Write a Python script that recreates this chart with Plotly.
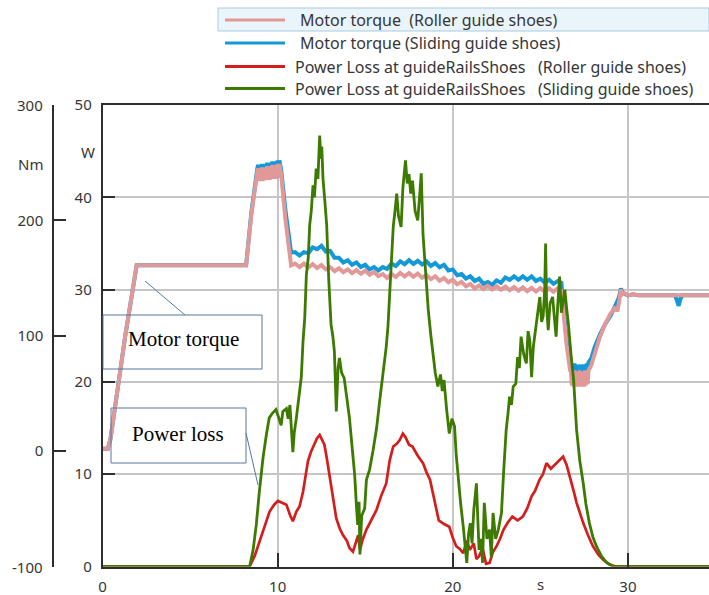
import plotly.graph_objects as go

# ---------------------------------------------------------------- data
# time axis shared by both motor-torque curves (s)
T_TORQUE = [
    0, 0.3, 0.45, 0.7, 1.0, 1.3, 1.6, 1.95, 8.2, 8.5, 8.85,
    8.9, 8.95, 9.0, 9.05, 9.1, 9.15, 9.2, 9.25, 9.3, 9.35, 9.4, 9.45, 9.5,
    9.55, 9.6, 9.65, 9.7, 9.75, 9.8, 9.85, 9.9, 9.95, 10.0, 10.05, 10.1,
    10.2, 10.45, 10.77,
    11.0, 11.25, 11.5, 11.75, 12.0, 12.25, 12.5, 12.75, 13.0, 13.25,
    13.5, 13.75, 14.0, 14.25, 14.5, 14.75, 15.0, 15.25, 15.5, 15.75,
    16.0, 16.25, 16.5, 16.75, 17.0, 17.25, 17.5, 17.75, 18.0, 18.25,
    18.5, 18.75, 19.0, 19.25, 19.5, 19.75, 20.0, 20.25, 20.5, 20.75,
    21.0, 21.25, 21.5, 21.75, 22.0, 22.25, 22.5, 22.75, 23.0, 23.25,
    23.5, 23.75, 24.0, 24.25, 24.5, 24.75, 25.0, 25.25, 25.5, 25.75,
    26.0,
    26.2, 26.35, 26.5, 26.7,
    26.75, 26.8, 26.85, 26.9, 26.95, 27.0, 27.05, 27.1, 27.15, 27.2, 27.25,
    27.3, 27.35, 27.4, 27.45, 27.5, 27.55, 27.6, 27.65, 27.7, 27.75,
    27.9, 28.1, 28.4, 28.7, 29.0, 29.3, 29.4, 29.5, 29.6, 29.7,
    29.8, 30.0, 30.3, 30.6, 32.7, 32.8, 32.9, 33.0, 33.1, 34.63,
]

# motor torque, roller guide shoes (Nm)
TORQUE_ROLLER = [
    2, 2, 10, 38, 70, 100, 128, 161, 161, 205, 243,
    245, 234, 245, 234, 246, 234, 246, 235, 246, 235, 247, 235, 247,
    235, 247, 236, 248, 236, 248, 236, 248, 236, 249, 237, 249,
    240, 200, 161,
    162.5, 159.5, 162.5, 159.3, 162.1, 158.7, 161.3, 157.5, 159.5, 156,
    158.5, 155, 157.5, 154.3, 157, 153.7, 156.5, 152.9, 155.3, 151.7,
    153.5, 150, 153.5, 151, 154.5, 151.4, 154.3, 151.1, 153.9, 150.3,
    152.7, 149.1, 151.5, 147.7, 150, 146.3, 148.5, 144.6, 146.7, 142.8,
    144.9, 141, 143.5, 140.4, 143.3, 140.2, 143, 139.9, 142.7, 139.5,
    142.3, 139.1, 141.9, 138.7, 141.5, 138.4, 141.3, 138.2, 141.1, 138.1,
    141.1,
    139, 115, 92, 70,
    68, 57, 69, 56, 70, 57, 68, 56, 69, 57, 70,
    56, 69, 57, 68, 56, 70, 57, 69, 58, 70,
    74, 84, 99, 110, 119, 125, 121, 130, 140, 136,
    137, 135, 136, 135, 135, 135, 135, 135, 135, 135,
]

# motor torque, sliding guide shoes (Nm)
TORQUE_SLIDING = [
    2, 2, 10, 38, 70, 100, 128, 161, 161, 207, 246,
    248, 240, 248, 240, 249, 240, 249, 241, 249, 241, 250, 241, 250,
    241, 250, 242, 251, 242, 251, 242, 251, 242, 252, 243, 252,
    244, 208, 172,
    172.5, 169.5, 172.5, 171.5, 176.5, 175, 178, 173, 173.5, 167.5,
    167.5, 163.5, 165.5, 161.5, 163.5, 159.5, 161.5, 157.5, 159.5, 156.5,
    159.5, 158, 162.5, 160.5, 164.5, 162, 165.5, 162.3, 165, 161.7,
    164.5, 160.5, 163, 159.3, 161.5, 156.5, 157.5, 152.5, 153.5, 149.5,
    151.5, 147.5, 149.5, 145, 146.5, 144, 148, 146, 150.5, 148.5,
    151.5, 148.5, 151.5, 148.5, 151.5, 147.5, 149.5, 146, 148.5, 145,
    147.5,
    146, 122, 96, 78,
    76, 68, 75, 68, 76, 69, 75, 68, 74, 69, 75,
    68, 74, 69, 75, 68, 74, 69, 76, 70, 77,
    80, 90, 101, 110, 117, 126, 130, 134, 141, 137,
    136, 135, 136, 135, 135, 130, 126, 132, 135, 135,
]

# power loss at the guide rail shoes, roller guide shoes (W)
T_LOSS_ROLLER = [
    0, 8.4, 8.7, 8.97, 9.25, 9.54, 9.8, 10.02, 10.25, 10.5,
    10.7, 10.87, 11.07, 11.25, 11.45, 11.6, 11.73, 11.9, 12.1, 12.25,
    12.4, 12.55, 12.67, 12.8, 12.97, 13.15, 13.35, 13.55, 13.73, 13.95,
    14.1, 14.3, 14.45, 14.6, 14.7, 14.85, 15.07, 15.35, 15.64, 15.9,
    16.2, 16.4, 16.6, 16.8, 16.97, 17.15, 17.3, 17.5, 17.7, 18.0,
    18.3, 18.5, 18.7, 18.95, 19.2, 19.5, 19.8, 20.0, 20.2, 20.4,
    20.6, 20.8, 20.97, 21.2, 21.35, 21.5, 21.7, 21.9, 22.1, 22.3,
    22.5, 22.7, 22.9, 23.15, 23.4, 23.7, 24.0, 24.25, 24.5, 24.7,
    24.95, 25.15, 25.35, 25.6, 25.9, 26.1, 26.3, 26.5, 26.7, 26.9,
    27.07, 27.25, 27.45, 27.7, 28.0, 28.3, 28.6, 28.97, 29.3, 34.63,
]
LOSS_ROLLER = [
    0, 0, 1.2, 2.7, 4.5, 5.95, 6.7, 7.1, 6.9, 6.7,
    5.6, 4.9, 5.95, 6.5, 8.1, 9.9, 11.4, 12.4, 13.2, 13.9,
    14.25, 13.6, 13.2, 11.8, 9.9, 7.5, 5.2, 4.1, 3.4, 2.8,
    2.0, 1.6, 2.4, 3.4, 1.8, 2.9, 4.0, 5.0, 6.1, 7.6,
    9.0, 11.5, 13.0, 13.3, 13.7, 14.4, 14.0, 13.2, 13.0, 12.0,
    11.2, 10.2, 9.4, 7.2, 5.0, 4.6, 4.3, 3.1, 2.2, 1.9,
    1.45, 2.8, 1.8, 2.5, 0.8, 1.1, 2.0, 0.3, 0.4, 1.6,
    2.2, 3.0, 4.0, 4.8, 5.4, 5.0, 5.4, 6.3, 7.6, 8.2,
    9.4, 10.0, 11.2, 10.6, 11.2, 11.5, 11.9, 11.0, 9.7, 8.2,
    6.9, 5.8, 4.7, 3.5, 2.2, 1.3, 0.7, 0.2, 0, 0,
]

# power loss at the guide rail shoes, sliding guide shoes (W)
T_LOSS_SLIDING = [
    0, 8.4, 8.6, 8.78, 8.95, 9.16, 9.35, 9.52, 9.7, 9.9,
    10.05, 10.2, 10.3, 10.5, 10.6, 10.7, 10.87, 10.95, 11.07, 11.25,
    11.35, 11.45, 11.55, 11.64, 11.75, 11.83, 11.92, 12.02, 12.1, 12.2,
    12.3, 12.4, 12.47, 12.52, 12.59, 12.7, 12.8, 12.92, 13.05, 13.15,
    13.24, 13.35, 13.45, 13.53, 13.65, 13.8, 13.95, 14.1, 14.25, 14.4,
    14.5, 14.57, 14.65, 14.7, 14.8, 14.97, 15.07, 15.25, 15.45, 15.65,
    15.83, 16.0, 16.2, 16.3, 16.4, 16.5, 16.6, 16.7, 16.8, 16.9,
    17.05, 17.15, 17.3, 17.4, 17.5, 17.6, 17.7, 17.85, 18.0, 18.1,
    18.2, 18.3, 18.4, 18.5, 18.6, 18.75, 18.9, 19.0, 19.15, 19.3,
    19.4, 19.5, 19.65, 19.8, 19.95, 20.1, 20.2, 20.3, 20.45, 20.6,
    20.7, 20.8, 20.9, 21.0, 21.1, 21.2, 21.35, 21.45, 21.5, 21.6,
    21.7, 21.8, 21.95, 22.1, 22.2, 22.3, 22.45, 22.6, 22.78, 22.9,
    23.05, 23.15, 23.24, 23.35, 23.45, 23.6, 23.7, 23.8, 23.9, 24.05,
    24.2, 24.3, 24.4, 24.5, 24.6, 24.77, 24.87, 24.97, 25.07, 25.16,
    25.25, 25.3, 25.36, 25.45, 25.55, 25.7, 25.8, 25.9, 26.0, 26.1,
    26.2, 26.3, 26.4, 26.5, 26.6, 26.75, 26.9, 27.07, 27.25, 27.45,
    27.6, 27.8, 28.0, 28.2, 28.5, 28.8, 29.15, 34.63,
]
LOSS_SLIDING = [
    0, 0, 1.8, 4.5, 8.0, 11.7, 14.2, 16.1, 16.6, 17.0,
    16.2, 15.3, 16.8, 17.1, 16.0, 17.5, 12.4, 14.5, 16.1, 18.9,
    20.5, 24.4, 27.0, 31.6, 33.5, 37.0, 38.5, 41.3, 40.0, 43.1,
    42.0, 46.7, 44.2, 45.5, 42.0, 39.5, 37.0, 31.0, 26.2, 25.0,
    23.3, 16.8, 21.5, 22.6, 21.0, 20.4, 18.5, 16.1, 13.0, 9.9,
    6.5, 4.5, 7.0, 1.3, 5.5, 6.3, 9.4, 10.5, 12.6, 15.0,
    18.0, 20.5, 23.8, 26.0, 29.6, 33.0, 36.8, 38.5, 40.4, 38.0,
    36.8, 41.0, 44.0, 41.5, 42.5, 40.4, 41.8, 38.5, 37.5, 40.0,
    42.6, 36.0, 33.2, 30.0, 27.8, 25.0, 22.4, 21.0, 19.5, 20.8,
    19.0, 20.2, 17.0, 14.4, 16.0, 15.2, 12.0, 9.7, 6.8, 4.3,
    2.0, 0.4, 3.5, 4.7, 2.5, 6.1, 9.0, 5.0, 1.8, 3.0,
    0.4, 6.9, 3.0, 4.0, 1.0, 5.8, 3.0, 4.0, 5.8, 10.1,
    14.8, 16.5, 18.4, 17.5, 19.5, 19.8, 22.7, 21.5, 24.9, 23.0,
    22.0, 25.5, 24.5, 20.5, 23.8, 26.3, 28.0, 29.2, 26.5, 27.1,
    30.0, 35.0, 28.0, 25.6, 28.5, 29.2, 27.0, 24.9, 28.5, 31.4,
    27.5, 29.0, 30.0, 28.0, 26.3, 23.0, 20.2, 14.8, 11.5, 9.0,
    6.8, 4.7, 3.2, 2.2, 1.1, 0.4, 0, 0,
]

SERIES_NAMES = [
    "Motor torque\u00a0\u00a0(Roller guide shoes)",
    "Motor torque (Sliding guide shoes)",
    "Power Loss at guideRailsShoes\u00a0\u00a0\u00a0(Roller guide shoes)",
    "Power Loss at guideRailsShoes\u00a0\u00a0\u00a0(Sliding guide shoes)",
]
X_TICKS = [0, 10, 20, 30]
W_TICKS = [0, 10, 20, 30, 40, 50]
NM_TICKS = [0, 100, 200]
NM_END_TICKS = [300, -100]
X_RANGE = [0, 34.63]
W_RANGE = [0, 50]
NM_RANGE = [-100, 300]

# ---------------------------------------------------------------- styling
FIG_W, FIG_H = 709, 595
PLOT_L, PLOT_T, PLOT_B = 102.5, 105, 566.5
NM_AXIS_X = 53

C_PINK = "rgb(225,152,152)"
C_BLUE = "rgb(20,152,215)"
C_RED = "rgb(212,30,30)"
C_GREEN = "rgb(60,122,0)"
C_AXIS = "#2e2e2e"
C_GRID = "#c6c6c6"
C_TEXT = "#363636"
C_NOTE = "rgb(88,118,160)"
SANS = "Noto Sans, Open Sans, sans-serif"
SERIF = "Liberation Serif, Times New Roman, serif"


def fx(px):
    return px / FIG_W


def fy(py):
    return 1 - py / FIG_H


fig = go.Figure()

# torque curves on the Nm axis (base layer)
fig.add_trace(go.Scatter(x=T_TORQUE, y=TORQUE_SLIDING, mode="lines", yaxis="y",
                         line=dict(color=C_BLUE, width=4), name=SERIES_NAMES[1]))
fig.add_trace(go.Scatter(x=T_TORQUE, y=TORQUE_ROLLER, mode="lines", yaxis="y",
                         line=dict(color=C_PINK, width=4), name=SERIES_NAMES[0]))
# power-loss curves on the W axis (drawn above)
fig.add_trace(go.Scatter(x=T_LOSS_ROLLER, y=LOSS_ROLLER, mode="lines", yaxis="y2",
                         line=dict(color=C_RED, width=2.7), name=SERIES_NAMES[2]))
fig.add_trace(go.Scatter(x=T_LOSS_SLIDING, y=LOSS_SLIDING, mode="lines", yaxis="y2",
                         line=dict(color=C_GREEN, width=2.8), name=SERIES_NAMES[3]))

shapes = []
annotations = []

# legend block
legend_rows = [20, 43, 66.5, 88.5]
legend_colors = [C_PINK, C_BLUE, C_RED, C_GREEN]
legend_text_x = [298, 298, 293, 293]
shapes.append(dict(type="rect", xref="paper", yref="paper",
                   x0=fx(218), x1=fx(709), y0=fy(31), y1=fy(8),
                   fillcolor="#eaf4fb", line=dict(color="#a9cbe0", width=1),
                   layer="below"))
for row, col, tx, name in zip(legend_rows, legend_colors, legend_text_x, SERIES_NAMES):
    shapes.append(dict(type="line", xref="paper", yref="paper",
                       x0=fx(225), x1=fx(285), y0=fy(row), y1=fy(row),
                       line=dict(color=col, width=3)))
    annotations.append(dict(xref="paper", yref="paper", x=fx(tx), y=fy(row),
                            xanchor="left", yanchor="middle", showarrow=False,
                            text=name, font=dict(family=SANS, size=16, color=C_TEXT)))

# call-out boxes
shapes.append(dict(type="rect", xref="paper", yref="paper",
                   x0=fx(103), x1=fx(262), y0=fy(369), y1=fy(315),
                   line=dict(color=C_NOTE, width=1)))
shapes.append(dict(type="line", xref="paper", yref="paper",
                   x0=fx(145), y0=fy(281), x1=fx(185), y1=fy(315),
                   line=dict(color=C_NOTE, width=1)))
annotations.append(dict(xref="paper", yref="paper", x=fx(183), y=fy(339),
                        xanchor="center", yanchor="middle", showarrow=False,
                        text="Motor torque", font=dict(family=SERIF, size=21, color="black")))
shapes.append(dict(type="rect", xref="paper", yref="paper",
                   x0=fx(111), x1=fx(246), y0=fy(463), y1=fy(408),
                   line=dict(color=C_NOTE, width=1)))
shapes.append(dict(type="line", xref="paper", yref="paper",
                   x0=fx(246), y0=fy(433), x1=fx(258), y1=fy(485),
                   line=dict(color=C_NOTE, width=1)))
annotations.append(dict(xref="paper", yref="paper", x=fx(178), y=fy(434),
                        xanchor="center", yanchor="middle", showarrow=False,
                        text="Power loss", font=dict(family=SERIF, size=21, color="black")))

# end labels of the Nm scale and the unit labels
for v in NM_END_TICKS:
    annotations.append(dict(xref="paper", yref="y", x=fx(45), y=v,
                            xanchor="right", yanchor="middle", showarrow=False,
                            text=str(v), font=dict(family=SANS, size=15, color=C_TEXT)))
annotations.append(dict(xref="paper", yref="paper", x=fx(45), y=fy(164),
                        xanchor="right", yanchor="middle", showarrow=False,
                        text="Nm", font=dict(family=SANS, size=15, color=C_TEXT)))
annotations.append(dict(xref="paper", yref="paper", x=fx(97), y=fy(152),
                        xanchor="right", yanchor="middle", showarrow=False,
                        text="W", font=dict(family=SANS, size=15, color=C_TEXT)))
annotations.append(dict(xref="x", yref="paper", x=25, y=fy(584),
                        xanchor="center", yanchor="middle", showarrow=False,
                        text="s", font=dict(family=SANS, size=15, color=C_TEXT)))

fig.update_layout(
    width=FIG_W, height=FIG_H, autosize=False,
    margin=dict(l=0, r=0, t=0, b=0, pad=0, autoexpand=False),
    paper_bgcolor="white", plot_bgcolor="white",
    showlegend=False,
    font=dict(family=SANS, size=15, color=C_TEXT),
    xaxis=dict(domain=[fx(PLOT_L), 1], range=X_RANGE, anchor="y",
               tickvals=X_TICKS, ticks="inside", ticklen=14, tickwidth=1.5,
               tickcolor=C_AXIS, showgrid=True, gridcolor=C_GRID, gridwidth=1.5,
               showline=True, linecolor=C_AXIS, linewidth=1.5, mirror=True,
               zeroline=False, ticklabelstandoff=6, automargin=False),
    yaxis=dict(domain=[fy(PLOT_B), fy(PLOT_T)], range=NM_RANGE,
               anchor="free", position=fx(NM_AXIS_X), side="left",
               tickvals=NM_TICKS, ticks="inside", ticklen=12, tickwidth=1.5,
               tickcolor=C_AXIS, showgrid=False, zeroline=False,
               showline=True, linecolor=C_AXIS, linewidth=1.5,
               ticklabelstandoff=6, automargin=False),
    yaxis2=dict(overlaying="y", anchor="x", side="left", range=W_RANGE,
                tickvals=W_TICKS, ticks="inside", ticklen=13, tickwidth=1.5,
                tickcolor=C_AXIS, showgrid=True, gridcolor=C_GRID, gridwidth=1.5,
                showline=True, linecolor=C_AXIS, linewidth=1.5, zeroline=False,
                ticklabelstandoff=6, automargin=False),
    shapes=shapes,
    annotations=annotations,
)

fig.write_html("out.html")
